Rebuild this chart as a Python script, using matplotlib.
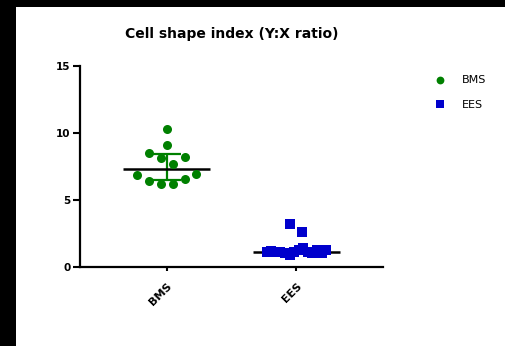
import numpy as np
import matplotlib
matplotlib.use("Agg")
import matplotlib.pyplot as plt
from matplotlib.lines import Line2D
from matplotlib.patches import Rectangle

# ---- data ----
title = "Cell shape index (Y:X ratio)"
categories = ["BMS", "EES"]
bms_values = [6.19, 6.19, 6.44, 6.54, 6.90, 6.94, 8.10, 7.66, 8.50, 8.20, 9.10, 10.30]
ees_values = [1.13, 1.30, 0.93, 1.43, 1.05, 1.15, 1.12, 1.02, 1.10, 1.25, 1.18, 1.08,
              1.14, 1.28, 3.21, 2.59]
yticks = [0, 5, 10, 15]

colors = ["#008000", "#0000CC"]
markers = ["o", "s"]

plt.rcParams['font.family'] = ['DejaVu Sans']

fig = plt.figure(figsize=(5.06, 3.46), dpi=100)
W, H = 506, 346
# black frame strips
fig.patches.append(Rectangle((0, 1 - 7 / H), 1, 7 / H, transform=fig.transFigure,
                             facecolor="black", edgecolor="none", zorder=0))
fig.patches.append(Rectangle((0, 0), 16.5 / W, 1, transform=fig.transFigure,
                             facecolor="black", edgecolor="none", zorder=0))

ax_h = 267 - 66
ax = fig.add_axes([80 / W, (H - 267) / H, (383 - 80) / W, ax_h / H])
ax.set_facecolor("none")


def swarm_offsets(values, row_height, step, max_span):
    values = np.asarray(values, dtype=float)
    rows = np.floor((values - values.min()) / row_height).astype(int)
    offs = np.zeros(len(values))
    for r in np.unique(rows):
        idx = np.where(rows == r)[0]
        n = len(idx)
        s = step if n < 2 else min(step, max_span / (n - 1))
        for k, i in enumerate(idx):
            if n % 2 == 0:
                mag = (k // 2 + 0.5) * s
                sign = -1 if k % 2 == 0 else 1
            else:
                if k == 0:
                    mag, sign = 0.0, 1
                else:
                    mag = ((k + 1) // 2) * s
                    sign = -1 if k % 2 == 1 else 1
            offs[i] = sign * mag
    return offs


groups = [bms_values, ees_values]
for gi, vals in enumerate(groups):
    vals = np.asarray(vals)
    offs = swarm_offsets(vals, row_height=1.2, step=0.0923, max_span=0.46)
    med = np.median(vals)
    q1, q3 = np.percentile(vals, [25, 75], method="weibull")
    # error bars (IQR)
    ax.plot([gi, gi], [q1, q3], color=colors[gi], lw=1.6, zorder=2, solid_capstyle="butt")
    for q in (q1, q3):
        ax.plot([gi - 0.11, gi + 0.11], [q, q], color=colors[gi], lw=1.6, zorder=2,
                solid_capstyle="butt")
    # median line
    ax.plot([gi - 0.336, gi + 0.336], [med, med], color="black", lw=1.8, zorder=2,
            solid_capstyle="butt")
    ax.plot(gi + offs, vals, linestyle="none", marker=markers[gi], markersize=6.5,
            color=colors[gi], markeredgewidth=0, zorder=3)

ax.set_xlim(-0.667, 1.667)
ax.set_ylim(0, 15)
ax.set_yticks(yticks)
ax.set_xticks(range(len(categories)))
ax.set_xticklabels(categories, rotation=45, ha="right", va="top",
                   rotation_mode="anchor", fontweight="bold", fontsize=8)
for lbl in ax.get_yticklabels():
    lbl.set_fontweight("bold")
    lbl.set_fontsize(7.5)

for sp in ("top", "right"):
    ax.spines[sp].set_visible(False)
for sp in ("left", "bottom"):
    ax.spines[sp].set_linewidth(1.6)
ax.tick_params(axis="y", direction="out", length=5, width=1.5, pad=2)
ax.tick_params(axis="x", direction="out", length=3, width=1.5, pad=7)

ax.text(0.5, 1 + 32 / ax_h, title, transform=ax.transAxes, ha="center", va="center",
        fontsize=10, fontweight="bold")

handles = [Line2D([], [], linestyle="none", marker=markers[i], color=colors[i],
                  markersize=5.6, markeredgewidth=0) for i in range(2)]
fig.legend(handles, categories, loc="upper left",
           bbox_to_anchor=(430 / W, 1 - 71 / H), frameon=False, fontsize=8,
           handlelength=1.0, handletextpad=1.5, labelspacing=1.3, borderaxespad=0)

fig.savefig("out.png", dpi=100)
